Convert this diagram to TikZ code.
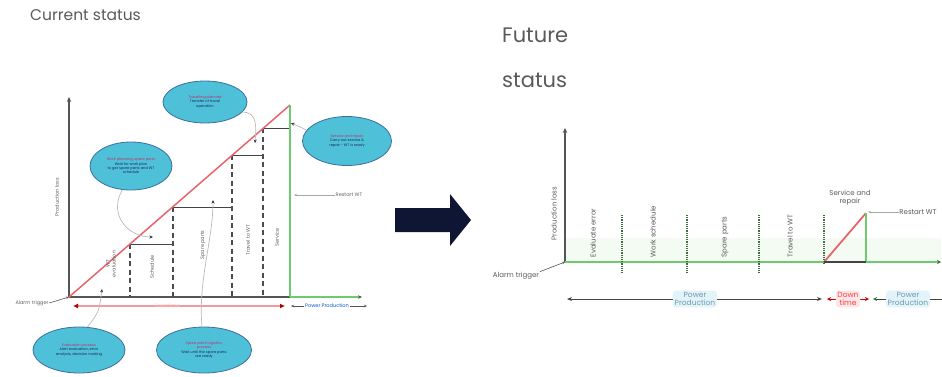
\documentclass[tikz,border=0pt]{standalone}
\usepackage{fontspec}
\setmainfont{Poppins}
\usetikzlibrary{arrows.meta,shapes.geometric}
\definecolor{axisgray}{HTML}{555555}
\definecolor{lred}{HTML}{E8646A}
\definecolor{barred}{HTML}{F59A9A}
\definecolor{lgreen}{HTML}{6CCB6C}
\definecolor{cyanfill}{HTML}{4EC0D8}
\definecolor{cyanedge}{HTML}{3C6F9E}
\definecolor{navyarrow}{HTML}{0E1634}
\definecolor{titlegray}{HTML}{5A5A5A}
\definecolor{boxblue}{HTML}{E2F4FA}
\definecolor{boxbluetext}{HTML}{6E9AAE}
\definecolor{boxpink}{HTML}{FCE6E8}
\definecolor{dotgreen}{HTML}{3F6B3F}
\definecolor{elltitle}{HTML}{C0306A}
\definecolor{elltext}{HTML}{1A2A5A}
\definecolor{bandgreen}{HTML}{F3FBF3}
\tikzset{
  ax/.style={draw=axisgray, line width=1.2pt},
  axarrow/.style={ax, -{Stealth[length=5pt,width=4.5pt]}},
  stepline/.style={draw=axisgray!80!black, line width=0.9pt},
  dashv/.style={draw=axisgray!90!black, line width=1.2pt, dash pattern=on 5pt off 3.5pt},
  dotv/.style={draw=dotgreen, line width=1.6pt, dash pattern=on 1.2pt off 1pt},
  ell/.style={ellipse, draw=cyanedge, line width=0.8pt, fill=cyanfill, inner sep=0pt, align=center,
              font=\fontsize{3.6}{4.4}\selectfont, text=elltext},
  conn/.style={draw=gray!55, line width=0.7pt, -{Stealth[length=3.5pt,width=3pt,color=black!80]}},
  lbl/.style={font=\fontsize{5}{6}\selectfont, text=gray!75!black, inner sep=0.5pt, align=center},
  rlbl/.style={lbl, rotate=90},
  flbl/.style={font=\fontsize{7}{8}\selectfont, text=gray!70!black, inner sep=0.5pt, align=center},
  frlbl/.style={flbl, rotate=90, anchor=west},
  title/.style={text=titlegray, inner sep=0pt, anchor=west},
  small/.style={-{Stealth[length=3pt,width=2.5pt]}, draw=axisgray, line width=0.6pt},
  tl/.style={draw=axisgray!80!black, line width=1pt, {Stealth[length=5pt,width=4pt]}-{Stealth[length=5pt,width=4pt]}},
  pbox/.style={fill=boxblue, text=boxbluetext, font=\fontsize{7.5}{8.5}\selectfont, align=center, inner sep=1.5pt, rounded corners=3pt}
}
\begin{document}
\begin{tikzpicture}[x=1pt,y=-1pt]
\useasboundingbox (0,0) rectangle (942,376);

% ---------------- Titles
\node[title, font=\fontsize{15.5}{17}\selectfont] (t1) at (30,15) {Current status};
\node[title, font=\fontsize{21}{24}\selectfont] (t2a) at (502,35) {Future};
\node[title, font=\fontsize{21}{24}\selectfont] (t2b) at (502,80) {status};

% ---------------- Left chart
\coordinate (O) at (69,297);
\coordinate (Ytop) at (69,97);
\coordinate (T) at (290,105);
\coordinate (Tb) at (290,297);
\coordinate (Xend) at (362,297);
\draw[axarrow] (O) -- (Ytop);
\draw[ax] (O) -- (Tb);
\draw[draw=lgreen, line width=1.4pt, -{Stealth[length=4pt,width=3.5pt,color=axisgray]}] (Tb) -- (Xend);

% staircase
\coordinate (P1) at (130,244);
\coordinate (P2) at (173,207);
\coordinate (P3) at (232,155);
\coordinate (P4) at (263,128);
\draw[stepline] (P1) -- (173,244);
\draw[stepline] (P2) -- (232,207);
\draw[stepline] (P3) -- (263,155);
\draw[stepline] (P4) -- (290,128);
\draw[dashv] (P1) -- (130,297);
\draw[dashv] (P2) -- (173,297);
\draw[dashv] (P3) -- (232,297);
\draw[dashv] (P4) -- (263,297);

% diagonal and green vertical
\draw[draw=lred, line width=1.5pt] (O) -- (T);
\draw[draw=lgreen, line width=1.8pt] (T) -- (Tb);

% labels in left chart
\node[rlbl] (ylab1) at (57,197) {Production loss};
\node[rlbl] (la) at (111,264) {WT\\evaluation};
\node[rlbl] (lb) at (152,267) {Schedule};
\node[rlbl] (lc) at (203,245) {Spare parts};
\node[rlbl] (ld) at (248,240) {Travel to WT};
\node[rlbl] (le) at (277,237) {Service};

\node[lbl] (alarm1) at (32,303) {Alarm trigger};
\draw[small] (alarm1.east) -- (O);

\node[lbl] (rs1) at (349,195) {Restart WT};
\coordinate (rs1tip) at (294,195);
\draw[small, draw=gray!70] (rs1.west) -- (rs1tip);

% bottom red downtime bar
\coordinate (dA) at (73,306);
\coordinate (dB) at (285,306);
\draw[draw=barred, line width=2.6pt, {Latex[length=5pt,width=5pt,color=red!70!black]}-{Latex[length=5pt,width=5pt,color=red!70!black]}] (dA) -- (dB);
\node[lbl, text=red!25] (dt1) at (167,306) {Downtime};
\coordinate (pA) at (291,306);
\coordinate (pB) at (367,306);
\draw[draw=axisgray, line width=0.6pt, {Stealth[length=3pt,width=2.5pt]}-{Stealth[length=3pt,width=2.5pt]}] (pA) -- (pB);
\node[lbl, fill=white, text=blue!60!cyan!80!black, inner sep=1pt] (pp1) at (327,306) {Power Production};

% ellipses
\node[ell, minimum width=84pt, minimum height=42pt] (e1) at (205,102)
  {\textcolor{elltitle}{Travelling planned}\\Transfer of travel\\operation};
\node[ell, minimum width=82pt, minimum height=48pt] (e2) at (131,166)
  {\textcolor{elltitle}{Work planning, spare parts}\\Wait for work plan\\to get spare parts and WT\\schedule};
\node[ell, minimum width=89pt, minimum height=49pt] (e3) at (347,141)
  {\textcolor{elltitle}{Service and repair}\\Carry out service \&\\repair - WT is ready};
\node[ell, minimum width=92pt, minimum height=46pt] (e4) at (79,350)
  {\textcolor{elltitle}{Evaluation process}\\Alert evaluation, error\\analysis, decision making};
\node[ell, minimum width=95pt, minimum height=46pt] (e5) at (204,350)
  {\textcolor{elltitle}{Spare parts logistics}\\\textcolor{elltitle}{process}\\Wait until the spare parts\\are ready};

% connectors
\coordinate (c1) at (255,143);
\coordinate (c2) at (153,237);
\coordinate (c3) at (291,123);
\coordinate (c4) at (102,289);
\coordinate (c5) at (213,200);
\draw[conn] (e1.345) .. controls (258,112) and (256,128) .. (c1);
\draw[conn] (e2.250) .. controls (108,215) and (128,237) .. (c2);
\draw[conn] (e3.165) .. controls (298,126) .. (c3);
\draw[conn] (e4.70) .. controls (99,312) .. (c4);
\draw[conn] (e5.95) .. controls (198,280) and (213,240) .. (c5);

% ---------------- Big arrow
\fill[navyarrow] (395,208) -- (450,208) -- (450,194) -- (471,220) -- (450,246) -- (450,232) -- (395,232) -- cycle;

% ---------------- Right chart
\coordinate (O2) at (565,262);
\coordinate (Y2top) at (565,128);
\coordinate (X2end) at (941,262);
\fill[bandgreen] (566,238) rectangle (941,261);
\draw[axarrow] (O2) -- (Y2top);
\draw[draw=lgreen, line width=2pt, -{Stealth[length=4pt,width=4pt,color=dotgreen]}] (O2) -- (X2end);

\draw[dotv] (622,215) -- (622,273);
\draw[dotv] (687,215) -- (687,273);
\draw[dotv] (759,215) -- (759,273);
\draw[dotv] (824,215) -- (824,264);

\node[frlbl] (ylab2) at (554,241) {Production loss};
\node[frlbl] (fa) at (593,258) {Evaluate error};
\node[frlbl] (fb) at (653,258) {Work schedule};
\node[frlbl] (fc) at (725,258) {Spare parts};
\node[frlbl] (fd) at (790,258) {Travel to WT};

\node[flbl] (alarm2) at (516,276) {Alarm trigger};
\draw[small] (alarm2.north east) -- (O2);

% service and repair
\coordinate (S0) at (824,262);
\coordinate (S1) at (866,213);
\coordinate (S2) at (866,262);
\draw[draw=lred, line width=1.8pt] (S0) -- (S1);
\draw[draw=lgreen, line width=1.6pt] (S1) -- (S2);
\draw[draw=axisgray!80!black, line width=1.1pt] (S0) -- (S2);
\node[flbl] (sr) at (850,198) {Service and\\repair};
\node[flbl] (rs2) at (918,212) {Restart WT};
\coordinate (rs2tip) at (868,212);
\draw[small, draw=gray!70] (rs2.west) -- (rs2tip);

% bottom timeline
\coordinate (b1) at (567,299);
\coordinate (b2) at (822,299);
\draw[tl] (b1) -- (b2);
\node[pbox] (pw1) at (695,299) {Power\\Production};
\coordinate (r1) at (827,299);
\coordinate (r2) at (869,299);
\draw[draw=red!80!black, line width=1pt, {Stealth[length=4pt,width=4pt]}-{Stealth[length=4pt,width=4pt]}] (r1) -- (r2);
\node[pbox, fill=boxpink, text=red!75] (dt2) at (848,299) {Down\\time};
\coordinate (g1) at (873,299);
\coordinate (g2) at (942,299);
\draw[draw=axisgray!80!black, line width=1pt, {Stealth[length=4pt,width=4pt,color=dotgreen]}-] (g1) -- (g2);
\node[pbox] (pw2) at (908,299) {Power\\Production};
\end{tikzpicture}
\end{document}
